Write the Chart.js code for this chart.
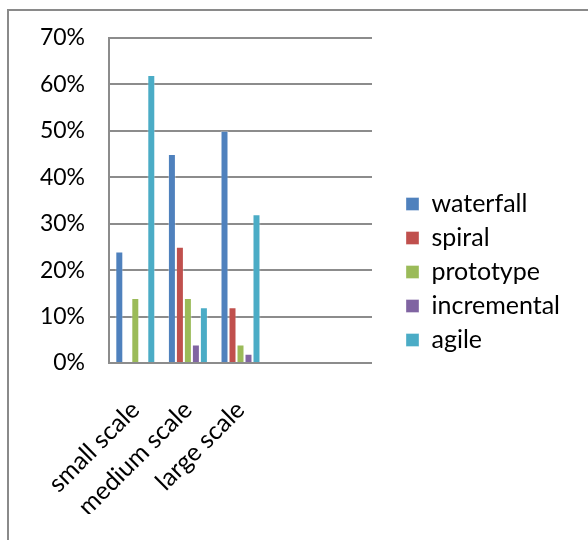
<!DOCTYPE html>
<html>
<head>
<meta charset="utf-8">
<script src="https://cdn.jsdelivr.net/npm/chart.js@4/dist/chart.umd.min.js"></script>
<style>
  html, body { margin: 0; padding: 0; background: #fff; }
  #wrap { position: relative; width: 588px; height: 540px; overflow: hidden; }
  #frame { position: absolute; left: 7px; top: 9px; width: 600px; height: 600px; border-left: 2px solid #8a8a8a; border-top: 2px solid #8a8a8a; }
  canvas { position: absolute; left: 0; top: 0; }
</style>
</head>
<body>
<div id="wrap">
  <div id="frame"></div>
  <canvas id="chart" width="588" height="540"></canvas>
</div>
<script>
// categories (the two trailing empty columns are part of the original sheet range)
var categories = ['small scale', 'medium scale', 'large scale', '', ''];
var seriesNames = ['waterfall', 'spiral', 'prototype', 'incremental', 'agile'];
var waterfall   = [24, 45, 50, null, null];
var spiral      = [0, 25, 12, null, null];
var prototype   = [14, 14, 4, null, null];
var incremental = [0, 4, 2, null, null];
var agile       = [62, 12, 32, null, null];
var yTicks = [0, 10, 20, 30, 40, 50, 60, 70];

var colors = ['#4f81bd', '#c0504d', '#9bbb59', '#8064a2', '#4bacc6'];
var values = [waterfall, spiral, prototype, incremental, agile];
var fontFamily = 'Lato, "Open Sans", sans-serif';
var gridColor = '#8c8c8c';

function draw() {
  var datasets = seriesNames.map(function (name, i) {
    return {
      label: name,
      data: values[i],
      backgroundColor: colors[i],
      borderColor: 'rgba(255,255,255,0.35)',
      borderWidth: 1,
      categoryPercentage: 0.76,
      barPercentage: 1.0
    };
  });

  var ctx = document.getElementById('chart').getContext('2d');
  var chart = new Chart(ctx, {
    type: 'bar',
    data: { labels: categories, datasets: datasets },
    options: {
      responsive: false,
      animation: false,
      layout: {
        padding: { left: 0, right: 18, top: 30, bottom: 26 }
      },
      scales: {
        x: {
          grid: { display: false, drawTicks: false },
          border: { display: true, color: gridColor, width: 2 },
          ticks: {
            color: '#000',
            font: { family: fontFamily, size: 25 },
            minRotation: 45,
            maxRotation: 45,
            autoSkip: false,
            padding: 32
          },
          afterFit: function (scale) { scale.height = 540 - 26 - 363; }
        },
        y: {
          min: 0,
          max: 70,
          afterBuildTicks: function (scale) {
            scale.ticks = yTicks.map(function (v) { return { value: v }; });
          },
          grid: { color: gridColor, lineWidth: 2, drawTicks: false },
          border: { display: true, color: gridColor, width: 2 },
          ticks: {
            color: '#000',
            font: { family: fontFamily, size: 23 },
            padding: 24,
            callback: function (v) { return v + '%'; }
          },
          afterFit: function (scale) { scale.width = 109; }
        },
        // empty strip between plot area and legend
        gap: {
          position: 'right',
          display: true,
          grid: { drawOnChartArea: false, drawTicks: false },
          border: { display: false },
          ticks: { display: false },
          afterFit: function (scale) { scale.width = 25; }
        }
      },
      plugins: {
        legend: {
          position: 'right',
          labels: {
            color: '#000',
            font: { family: fontFamily, size: 25 },
            boxWidth: 13,
            boxHeight: 13,
            padding: 9
          }
        },
        tooltip: { enabled: false }
      }
    }
  });

  // the layout caps a side legend at a quarter of the width; let it take what its labels need
  var legend = chart.legend;
  var origUpdate = legend.update;
  legend.update = function (maxWidth, maxHeight, margins) {
    return origUpdate.call(this, 400, maxHeight, margins);
  };
  chart.update();
}

if (document.fonts && document.fonts.load) {
  Promise.all([
    document.fonts.load('25px Lato'),
    document.fonts.load('23px Lato')
  ]).then(draw, draw);
} else {
  draw();
}
</script>
</body>
</html>
